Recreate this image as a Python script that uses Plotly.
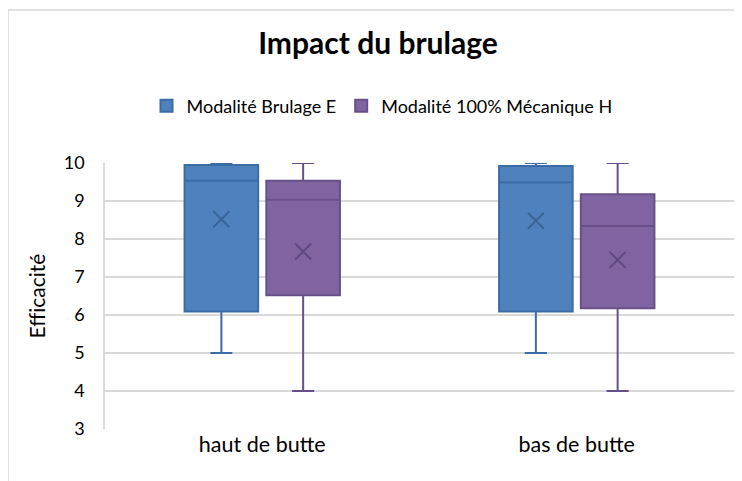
import plotly.graph_objects as go

categories = ["haut de butte", "bas de butte"]
series_names = ["Modalité Brulage E", "Modalité 100% Mécanique H"]

# Box statistics per series (one value per category)
brulage_min = [5.0, 5.0]
brulage_q1 = [6.09, 6.09]
brulage_median = [9.53, 9.49]
brulage_q3 = [9.95, 9.92]
brulage_max = [10.0, 10.0]
brulage_mean = [8.52, 8.48]

meca_min = [4.0, 4.0]
meca_q1 = [6.52, 6.18]
meca_median = [9.03, 8.34]
meca_q3 = [9.53, 9.18]
meca_max = [10.0, 10.0]
meca_mean = [7.67, 7.45]

y_ticks = [3, 4, 5, 6, 7, 8, 9, 10]

FONT = "Lato"
fills = ["#4F81BD", "#8064A2"]
lines = ["#3B6CA6", "#67508A"]
dark = ["#3A6596", "#5E4880"]

stats = [
    (brulage_min, brulage_q1, brulage_median, brulage_q3, brulage_max, brulage_mean),
    (meca_min, meca_q1, meca_median, meca_q3, meca_max, meca_mean),
]

W, H = 734, 473
L, T, R, B = 97, 155, 8, 52
PW, PH = W - L - R, H - T - B

fig = go.Figure()
for i, (mn, q1, med, q3, mx, mean) in enumerate(stats):
    fig.add_trace(go.Box(
        name=series_names[i],
        x=categories,
        lowerfence=mn, q1=q1, median=med, q3=q3, upperfence=mx,
        fillcolor=fills[i],
        line=dict(color=lines[i], width=2),
        whiskerwidth=0.3,
        offsetgroup=str(i),
        alignmentgroup="a",
        hoverinfo="skip",
    ))
for i, (mn, q1, med, q3, mx, mean) in enumerate(stats):
    fig.add_trace(go.Scatter(
        x=categories, y=mean, mode="markers",
        marker=dict(symbol="x-thin", size=16, line=dict(color=dark[i], width=2)),
        offsetgroup=str(i), alignmentgroup="a",
        showlegend=False, hoverinfo="skip",
    ))

fig.update_layout(
    width=W, height=H,
    margin=dict(l=L, r=R, t=T, b=B, autoexpand=False),
    paper_bgcolor="white", plot_bgcolor="white",
    boxmode="group", scattermode="group",
    boxgap=0.48, boxgroupgap=0.1, scattergap=0.48,
    font=dict(family=FONT, color="#000000"),
    title=dict(text="<b>Impact du brulage</b>", x=370 / W, xanchor="center",
               y=1 - 35 / H, yanchor="middle",
               font=dict(size=30, family=FONT, color="#000000")),
    legend=dict(orientation="h", x=374 / W, xref="container", xanchor="center",
                y=1 - 98 / H, yref="container", yanchor="middle",
                font=dict(size=18, family=FONT, color="#000000"),
                itemwidth=30, tracegroupgap=0),
    xaxis=dict(showgrid=False, showline=False, ticks="",
               tickfont=dict(size=21.5, family=FONT, color="#000000")),
    yaxis=dict(range=[3, 10], tickvals=y_ticks, showgrid=True,
               gridcolor="#D9D9D9", gridwidth=2, zeroline=False,
               showline=True, linecolor="#D9D9D9", linewidth=1.5,
               ticks="", ticklabelstandoff=15,
               tickfont=dict(size=18, family=FONT, color="#000000"),
               title=dict(text="Eff\u200cicacité", standoff=12,
                          font=dict(size=21, family=FONT, color="#000000"))),
    shapes=[dict(type="rect", xref="paper", yref="paper",
                 x0=-L / PW, x1=1.05, y0=-0.5, y1=1 + (T - 2) / PH,
                 line=dict(color="#D9D9D9", width=1.5), fillcolor="rgba(0,0,0,0)",
                 layer="below")],
)

fig.write_html("out.html")
